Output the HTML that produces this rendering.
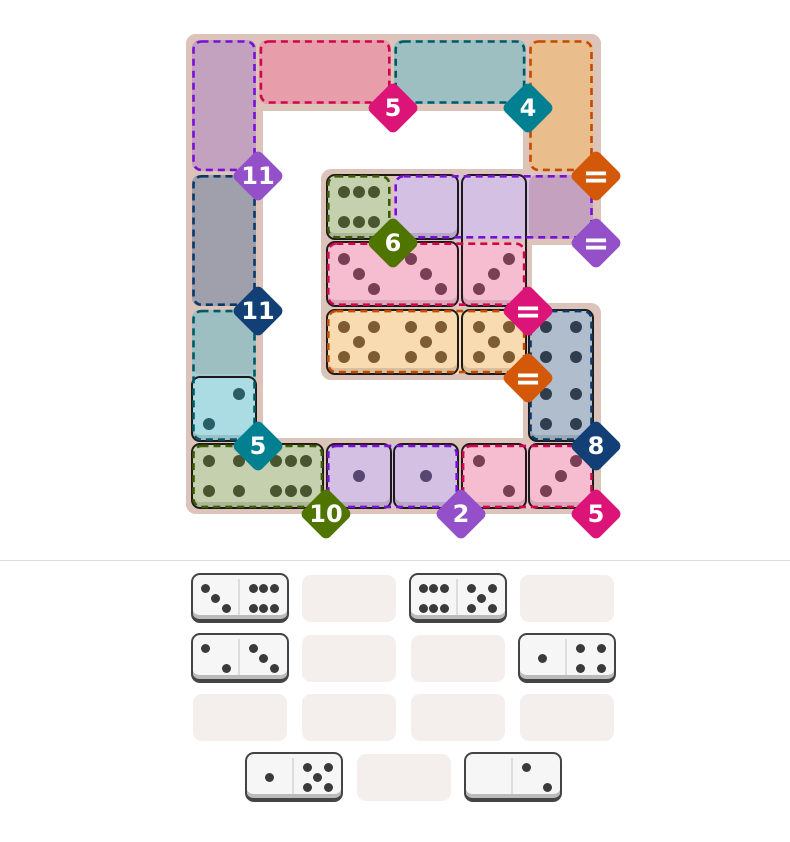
<!DOCTYPE html>
<html><head><meta charset="utf-8"><style>
body{margin:0;width:790px;height:842px;background:#fff;position:relative;overflow:hidden;font-family:"Liberation Sans",sans-serif}
.a{position:absolute;box-sizing:border-box}
.bg{background:#dcc4ba;border-radius:10px}
.cell{border-radius:8px}
.dom{border:2px solid #1e1a1a;border-radius:9px;box-shadow:inset 0 -5px 0 rgba(0,0,0,0.12)}
.pip{border-radius:50%}
.dia{width:38px;height:38px;border-radius:6px;transform:rotate(45deg)}
.lab{width:60px;height:30px;text-align:center;color:#fff;font-weight:bold;font-size:24px;line-height:30px;font-family:"DejaVu Sans","Liberation Sans",sans-serif}
.slot{background:#f4efec;border-radius:9px;width:94px;height:47px}
.td{width:98px;height:50px;background:#f6f6f6;border:2px solid #444;border-bottom:4px solid #444;border-radius:9px;box-shadow:inset 0 -4px 0 #bbb}
.tdiv{width:2px;background:#ddd}
</style></head><body>
<div class="a" style="left:0;top:560px;width:790px;height:1px;background:#ddd"></div>
<div id="root"></div>
<script>
var R=document.getElementById('root');
function el(cls,st,txt){var d=document.createElement('div');d.className='a '+cls;d.setAttribute('style',st);if(txt)d.textContent=txt;R.appendChild(d);return d;}
var P=67.4,X0=192,Y0=40,S=64;
function cx(c){return X0+c*P}function cy(r){return Y0+r*P}
[[186,34,601,111],[186,34,263,514],[186,438,601,514],[523,34,601,245],[321,169,532,380],[523,303,601,514]].forEach(function(b){
 el('bg','left:'+b[0]+'px;top:'+b[1]+'px;width:'+(b[2]-b[0])+'px;height:'+(b[3]-b[1])+'px');});
var regs=[[0,0,1,0,'#7a10d6','#c2a2bf'],[0,1,0,2,'#d0064c','#e89daa'],[0,3,0,4,'#005a66','#9dbfc2'],[0,5,1,5,'#c44a00','#eabd8d'],[2,0,3,0,'#0c3868','#a0a0ac'],[2,2,2,2,'#3d5a00','#c5d1ae'],[2,3,2,5,'#7a10d6','#d3c0e2'],
 [3,2,3,4,'#d0064c','#f6bdd1'],[4,2,4,4,'#c44a00','#f8dbb0'],[4,5,5,5,'#0c3868','#afbdcd'],[4,0,5,0,'#005a66','#a4cdd2'],[6,0,6,1,'#3d5a00','#c5d1ae'],[6,2,6,3,'#7a10d6','#d3c0e2'],[6,4,6,5,'#d0064c','#f6bdd1']];
regs.forEach(function(d){var x=cx(d[1]),y=cy(d[0]),w=cx(d[3])+S-x,h=cy(d[2])+S-y;
 el('cell','left:'+x+'px;top:'+y+'px;width:'+w+'px;height:'+h+'px;background:'+d[5]);});
var col={
'0,0':'#c2a2bf','1,0':'#c2a2bf','0,1':'#e89daa','0,2':'#e89daa','0,3':'#9dbfc2','0,4':'#9dbfc2','0,5':'#eabd8d','1,5':'#eabd8d',
'2,0':'#a0a0ac','3,0':'#a0a0ac','4,0':'#9dbfc2','5,0':'#acdce3',
'2,2':'#c5d1ae','2,3':'#d3c0e2','2,4':'#d3c0e2','2,5':'#c4a2bf',
'3,2':'#f6bdd1','3,3':'#f6bdd1','3,4':'#f6bdd1',
'4,2':'#f8dbb0','4,3':'#f8dbb0','4,4':'#f8dbb0','4,5':'#afbdcd','5,5':'#afbdcd',
'6,0':'#c5d1ae','6,1':'#c5d1ae','6,2':'#d3c0e2','6,3':'#d3c0e2','6,4':'#f6bdd1','6,5':'#f6bdd1'};
var pc={'#c5d1ae':'#4a5530','#f6bdd1':'#7a3e55','#f8dbb0':'#7d5c32','#afbdcd':'#2f3d4e','#acdce3':'#2a5e66','#d3c0e2':'#574670'};
for(var k in col){var rc=k.split(',');el('cell','left:'+cx(+rc[1])+'px;top:'+cy(+rc[0])+'px;width:'+S+'px;height:'+S+'px;background:'+col[k]);}
[[2,2,2,3],[2,4,3,4],[3,2,3,3],[4,2,4,3],[4,4,4,4],[4,5,5,5],[5,0,5,0],[6,0,6,1],[6,2,6,2],[6,3,6,3],[6,4,6,4],[6,5,6,5]].forEach(function(d){
 var x=cx(d[1])-1,y=cy(d[0])-1,w=cx(d[3])+S+1-x,h=cy(d[2])+S+1-y;
 el('dom','left:'+x+'px;top:'+y+'px;width:'+w+'px;height:'+h+'px');});
var L=17,M=32,Rr=47;
var pat={'1':[[M,M]],'2':[[Rr,L],[L,Rr]],'2b':[[L,L],[Rr,Rr]],'3':[[L,L],[M,M],[Rr,Rr]],'3b':[[Rr,L],[M,M],[L,Rr]],'4':[[L,L],[Rr,L],[L,Rr],[Rr,Rr]],'5':[[L,L],[Rr,L],[M,M],[L,Rr],[Rr,Rr]],'6':[[L,L],[M,L],[Rr,L],[L,Rr],[M,Rr],[Rr,Rr]]};
var pips={'2,2':'6','3,2':'3','3,3':'3','3,4':'3b','4,2':'5','4,3':'5','4,4':'5','4,5':'4','5,5':'4','5,0':'2','6,0':'4','6,1':'6','6,2':'1','6,3':'1','6,4':'2b','6,5':'3b'};
for(var k in pips){var rc=k.split(','),p=pc[col[k]];
 pat[pips[k]].forEach(function(q){el('pip','left:'+(cx(+rc[1])+q[0]-6)+'px;top:'+(cy(+rc[0])+q[1]-6)+'px;width:12px;height:12px;background:'+p);});}
var NS='http://www.w3.org/2000/svg';
var svg=document.createElementNS(NS,'svg');svg.setAttribute('width','790');svg.setAttribute('height','842');svg.setAttribute('style','position:absolute;left:0;top:0');
R.appendChild(svg);
regs.forEach(function(d){
 var x=cx(d[1]),y=cy(d[0]),w=cx(d[3])+S-x,h=cy(d[2])+S-y;
 var r=document.createElementNS(NS,'rect');
 r.setAttribute('x',x+1.5);r.setAttribute('y',y+1.5);r.setAttribute('width',w-3);r.setAttribute('height',h-3);r.setAttribute('rx',8);
 r.setAttribute('fill','none');r.setAttribute('stroke',d[4]);r.setAttribute('stroke-width','2.6');r.setAttribute('stroke-dasharray','7 5');
 svg.appendChild(r);});
[[258,176,'11','#9450c8'],[393,108,'5','#dc1478'],[528,108,'4','#008090'],[596,176,'=','#d4580a'],[258,311,'11','#123f75'],[393,243,'6','#4f7500'],
 [596,243,'=','#9450c8'],[528,311,'=','#dc1478'],[528,378,'=','#d4580a'],[596,446,'8','#123f75'],[258,446,'5','#008090'],[326,514,'10','#4f7500'],[461,514,'2','#9450c8'],[596,514,'5','#dc1478']].forEach(function(b){
 el('dia','left:'+(b[0]-19)+'px;top:'+(b[1]-19)+'px;background:'+b[3]);
 el('lab','left:'+(b[0]-30)+'px;top:'+(b[1]-15)+'px;'+(b[2]=='='?'font-size:32px;':''),b[2]);});
var tp={0:[],1:[[24.5,25]],2:[[14,15],[35,35]],3:[[14,15],[24.5,25],[35,35]],4:[[14,15],[35,15],[14,35],[35,35]],5:[[14,15],[35,15],[24.5,25],[14,35],[35,35]],6:[[14,15],[24.5,15],[35,15],[14,35],[24.5,35],[35,35]]};
function dom(x,y,a,b){el('td','left:'+x+'px;top:'+y+'px');el('tdiv','left:'+(x+47)+'px;top:'+(y+6)+'px;height:36px');
 [[a,0],[b,48]].forEach(function(h){tp[h[0]].forEach(function(q){el('pip','left:'+(x+h[1]+q[0]-4.5)+'px;top:'+(y+q[1]-4.5)+'px;width:9px;height:9px;background:#3a3a3a');});});}
function slot(x,y){el('slot','left:'+x+'px;top:'+y+'px');}
dom(191,573,3,6);slot(302,575);dom(409,573,6,5);slot(520,575);
dom(191,633,2,3);slot(302,635);slot(411,635);dom(518,633,1,4);
slot(193,694);slot(302,694);slot(411,694);slot(520,694);
dom(245,752,1,5);slot(357,754);dom(464,752,0,2);
</script>
</body></html>
